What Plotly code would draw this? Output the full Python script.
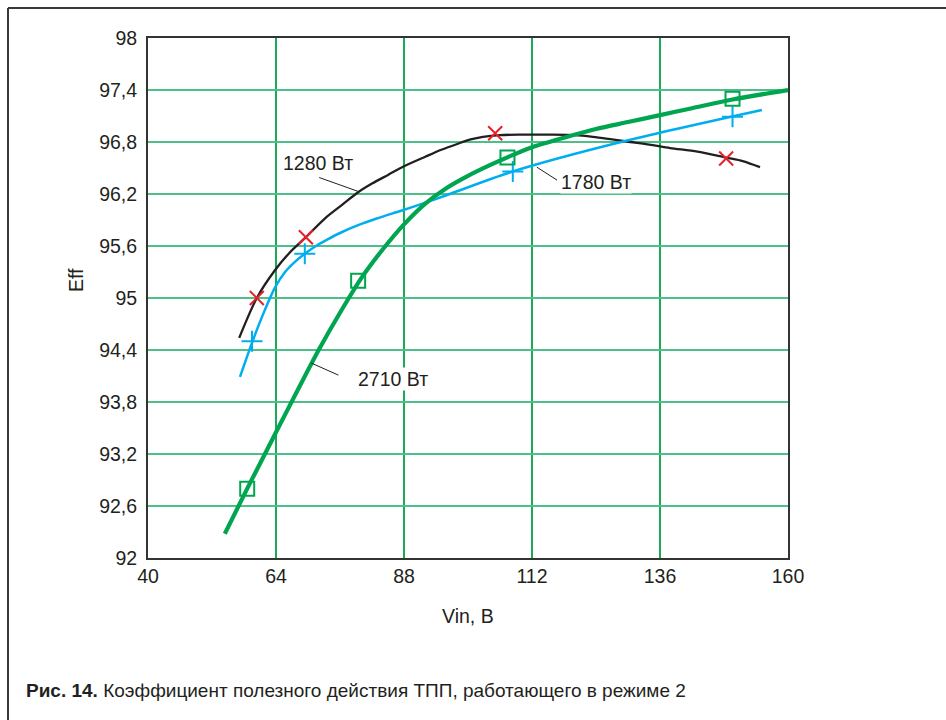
import plotly.graph_objects as go

# ---- data ----
x_1280 = [57.1, 60.4, 63.8, 66.5, 69.4, 73.2, 76.5, 79.4, 82.0, 85.0, 88.0, 92.0, 95.0, 98.1,
          100.5, 102.8, 106.0, 110.0, 115.0, 120.0, 123.4, 127.0, 130.4, 134.0, 137.9, 143.0, 148.4, 151.5, 154.75]
y_1280 = [94.54, 95.00, 95.32, 95.52, 95.69, 95.92, 96.08, 96.22, 96.32, 96.42, 96.52, 96.63, 96.71, 96.78,
          96.83, 96.86, 96.88, 96.885, 96.885, 96.88, 96.86, 96.83, 96.80, 96.77, 96.73, 96.69, 96.62, 96.58, 96.51]
mk_1280_x = [60.4, 69.6, 105.1, 148.4]
mk_1280_y = [95.00, 95.70, 96.90, 96.61]

x_1780 = [57.25, 59.6, 61.9, 63.8, 65.7, 67.6, 69.4, 71.5, 73.5, 76.0, 79.4, 83.0, 87.6, 92.0, 96.6, 108.4, 130.0, 155.1]
y_1780 = [94.09, 94.50, 94.86, 95.12, 95.30, 95.42, 95.51, 95.60, 95.67, 95.75, 95.84, 95.92, 96.01, 96.10, 96.20, 96.46, 96.82, 97.17]
mk_1780_x = [59.5, 69.4, 108.4, 149.6]
mk_1780_y = [94.50, 95.51, 96.46, 97.09]

x_2710 = [54.4, 58.6, 64.0, 68.0, 72.0, 76.0, 80.0, 84.0, 88.0, 92.0, 96.0, 100.0, 104.0, 108.0, 112.0,
          118.0, 124.0, 130.0, 136.0, 142.0, 149.6, 160.0]
y_2710 = [92.28, 92.80, 93.45, 93.93, 94.40, 94.83, 95.23, 95.56, 95.85, 96.09, 96.27, 96.41, 96.53, 96.64, 96.74,
          96.85, 96.95, 97.03, 97.11, 97.19, 97.29, 97.40]
mk_2710_x = [58.6, 79.4, 107.4, 149.6]
mk_2710_y = [92.80, 95.20, 96.62, 97.30]

series_labels = ["1280 Вт", "1780 Вт", "2710 Вт"]
x_ticks = [40, 64, 88, 112, 136, 160]
y_ticks = [92, 92.6, 93.2, 93.8, 94.4, 95, 95.6, 96.2, 96.8, 97.4, 98]
y_ticktext = ["92", "92,6", "93,2", "93,8", "94,4", "95", "95,6", "96,2", "96,8", "97,4", "98"]
x_title = "Vin, В"
y_title = "Eff"
caption_bold = "Рис. 14."
caption_text = " Коэффициент полезного действия ТПП, работающего в режиме 2"

BLACK = "#231f20"
BLUE = "#00aeef"
GREEN = "#00a550"
RED = "#e8202a"
FONT = "Liberation Sans, Arial, sans-serif"
FS = 19.5

fig = go.Figure()
fig.add_trace(go.Scatter(x=x_1280, y=y_1280, mode="lines", line=dict(color=BLACK, width=2.3, shape="spline", smoothing=0.8)))
fig.add_trace(go.Scatter(x=x_1780, y=y_1780, mode="lines", line=dict(color=BLUE, width=2.5, shape="spline", smoothing=0.8)))
fig.add_trace(go.Scatter(x=x_2710, y=y_2710, mode="lines", line=dict(color=GREEN, width=4.2, shape="spline", smoothing=0.8)))
fig.add_trace(go.Scatter(x=mk_1280_x, y=mk_1280_y, mode="markers",
                         marker=dict(symbol="x-thin", size=14, line=dict(color=RED, width=2))))
fig.add_trace(go.Scatter(x=mk_1780_x, y=mk_1780_y, mode="markers",
                         marker=dict(symbol="cross-thin", size=15, line=dict(color=BLUE, width=2))))
fig.add_trace(go.Scatter(x=mk_2710_x, y=mk_2710_y, mode="markers",
                         marker=dict(symbol="square-open", size=14, color=GREEN, line=dict(color=GREEN, width=2))))

# labels and leader lines (data coordinates)
label_pos = [(71.9, 96.56), (124.0, 96.34), (85.9, 94.07)]
leaders = [((72.1, 96.39), (79.4, 96.23)), ((112.9, 96.51), (116.7, 96.36)), ((70.6, 94.25), (75.7, 94.11))]
for lab, (lx, ly), ((x0, y0), (x1, y1)) in zip(series_labels, label_pos, leaders):
    fig.add_annotation(x=lx, y=ly, text=lab, showarrow=False, bgcolor="white",
                       font=dict(family=FONT, size=FS, color=BLACK), borderpad=0)
    fig.add_shape(type="line", x0=x0, y0=y0, x1=x1, y1=y1, line=dict(color=BLACK, width=1))

# axis titles / caption placed in pixel-based paper coords
L, R, T, B = 148, 788, 38, 558
def px(xp):
    return (xp - L) / (R - L)
def py(yp):
    return (B - yp) / (B - T)

fig.add_annotation(x=px(76), y=py(280), xref="paper", yref="paper", text=y_title, textangle=-90,
                   xanchor="center", yanchor="middle",
                   showarrow=False, font=dict(family=FONT, size=FS, color=BLACK))
fig.add_annotation(x=px(468), y=py(616), xref="paper", yref="paper", text=x_title,
                   xanchor="center", yanchor="middle",
                   showarrow=False, font=dict(family=FONT, size=FS, color=BLACK))
fig.add_annotation(x=px(24), y=py(690), xref="paper", yref="paper", xanchor="left", yanchor="middle",
                   text="<b>" + caption_bold + "</b>" + caption_text,
                   showarrow=False, font=dict(family=FONT, size=19, color=BLACK))

# outer frame (top and left edges)
fig.add_shape(type="line", xref="paper", yref="paper", x0=px(8), y0=py(8), x1=px(946), y1=py(8),
              line=dict(color="#3a3a3a", width=2))
fig.add_shape(type="line", xref="paper", yref="paper", x0=px(8), y0=py(8), x1=px(8), y1=py(720),
              line=dict(color="#3a3a3a", width=2))

fig.update_layout(
    width=946, height=720,
    margin=dict(l=L, r=946 - R, t=T, b=720 - B),
    plot_bgcolor="white", paper_bgcolor="white",
    showlegend=False,
    font=dict(family=FONT, size=FS, color=BLACK),
)
fig.update_xaxes(range=[40, 160], tickvals=x_ticks, ticktext=[str(v) for v in x_ticks],
                 showgrid=True, gridcolor="#1aaa55", gridwidth=1.5,
                 showline=True, linecolor="#333333", linewidth=2, mirror=True,
                 ticks="", ticklabelstandoff=0, zeroline=False,
                 tickfont=dict(family=FONT, size=FS, color=BLACK))
fig.update_yaxes(range=[92, 98], tickvals=y_ticks, ticktext=y_ticktext,
                 showgrid=True, gridcolor="#4cc088", gridwidth=2,
                 showline=True, linecolor="#333333", linewidth=2, mirror=True,
                 ticks="", ticklabelstandoff=5, zeroline=False,
                 tickfont=dict(family=FONT, size=FS, color=BLACK))

fig.write_html("out.html")
